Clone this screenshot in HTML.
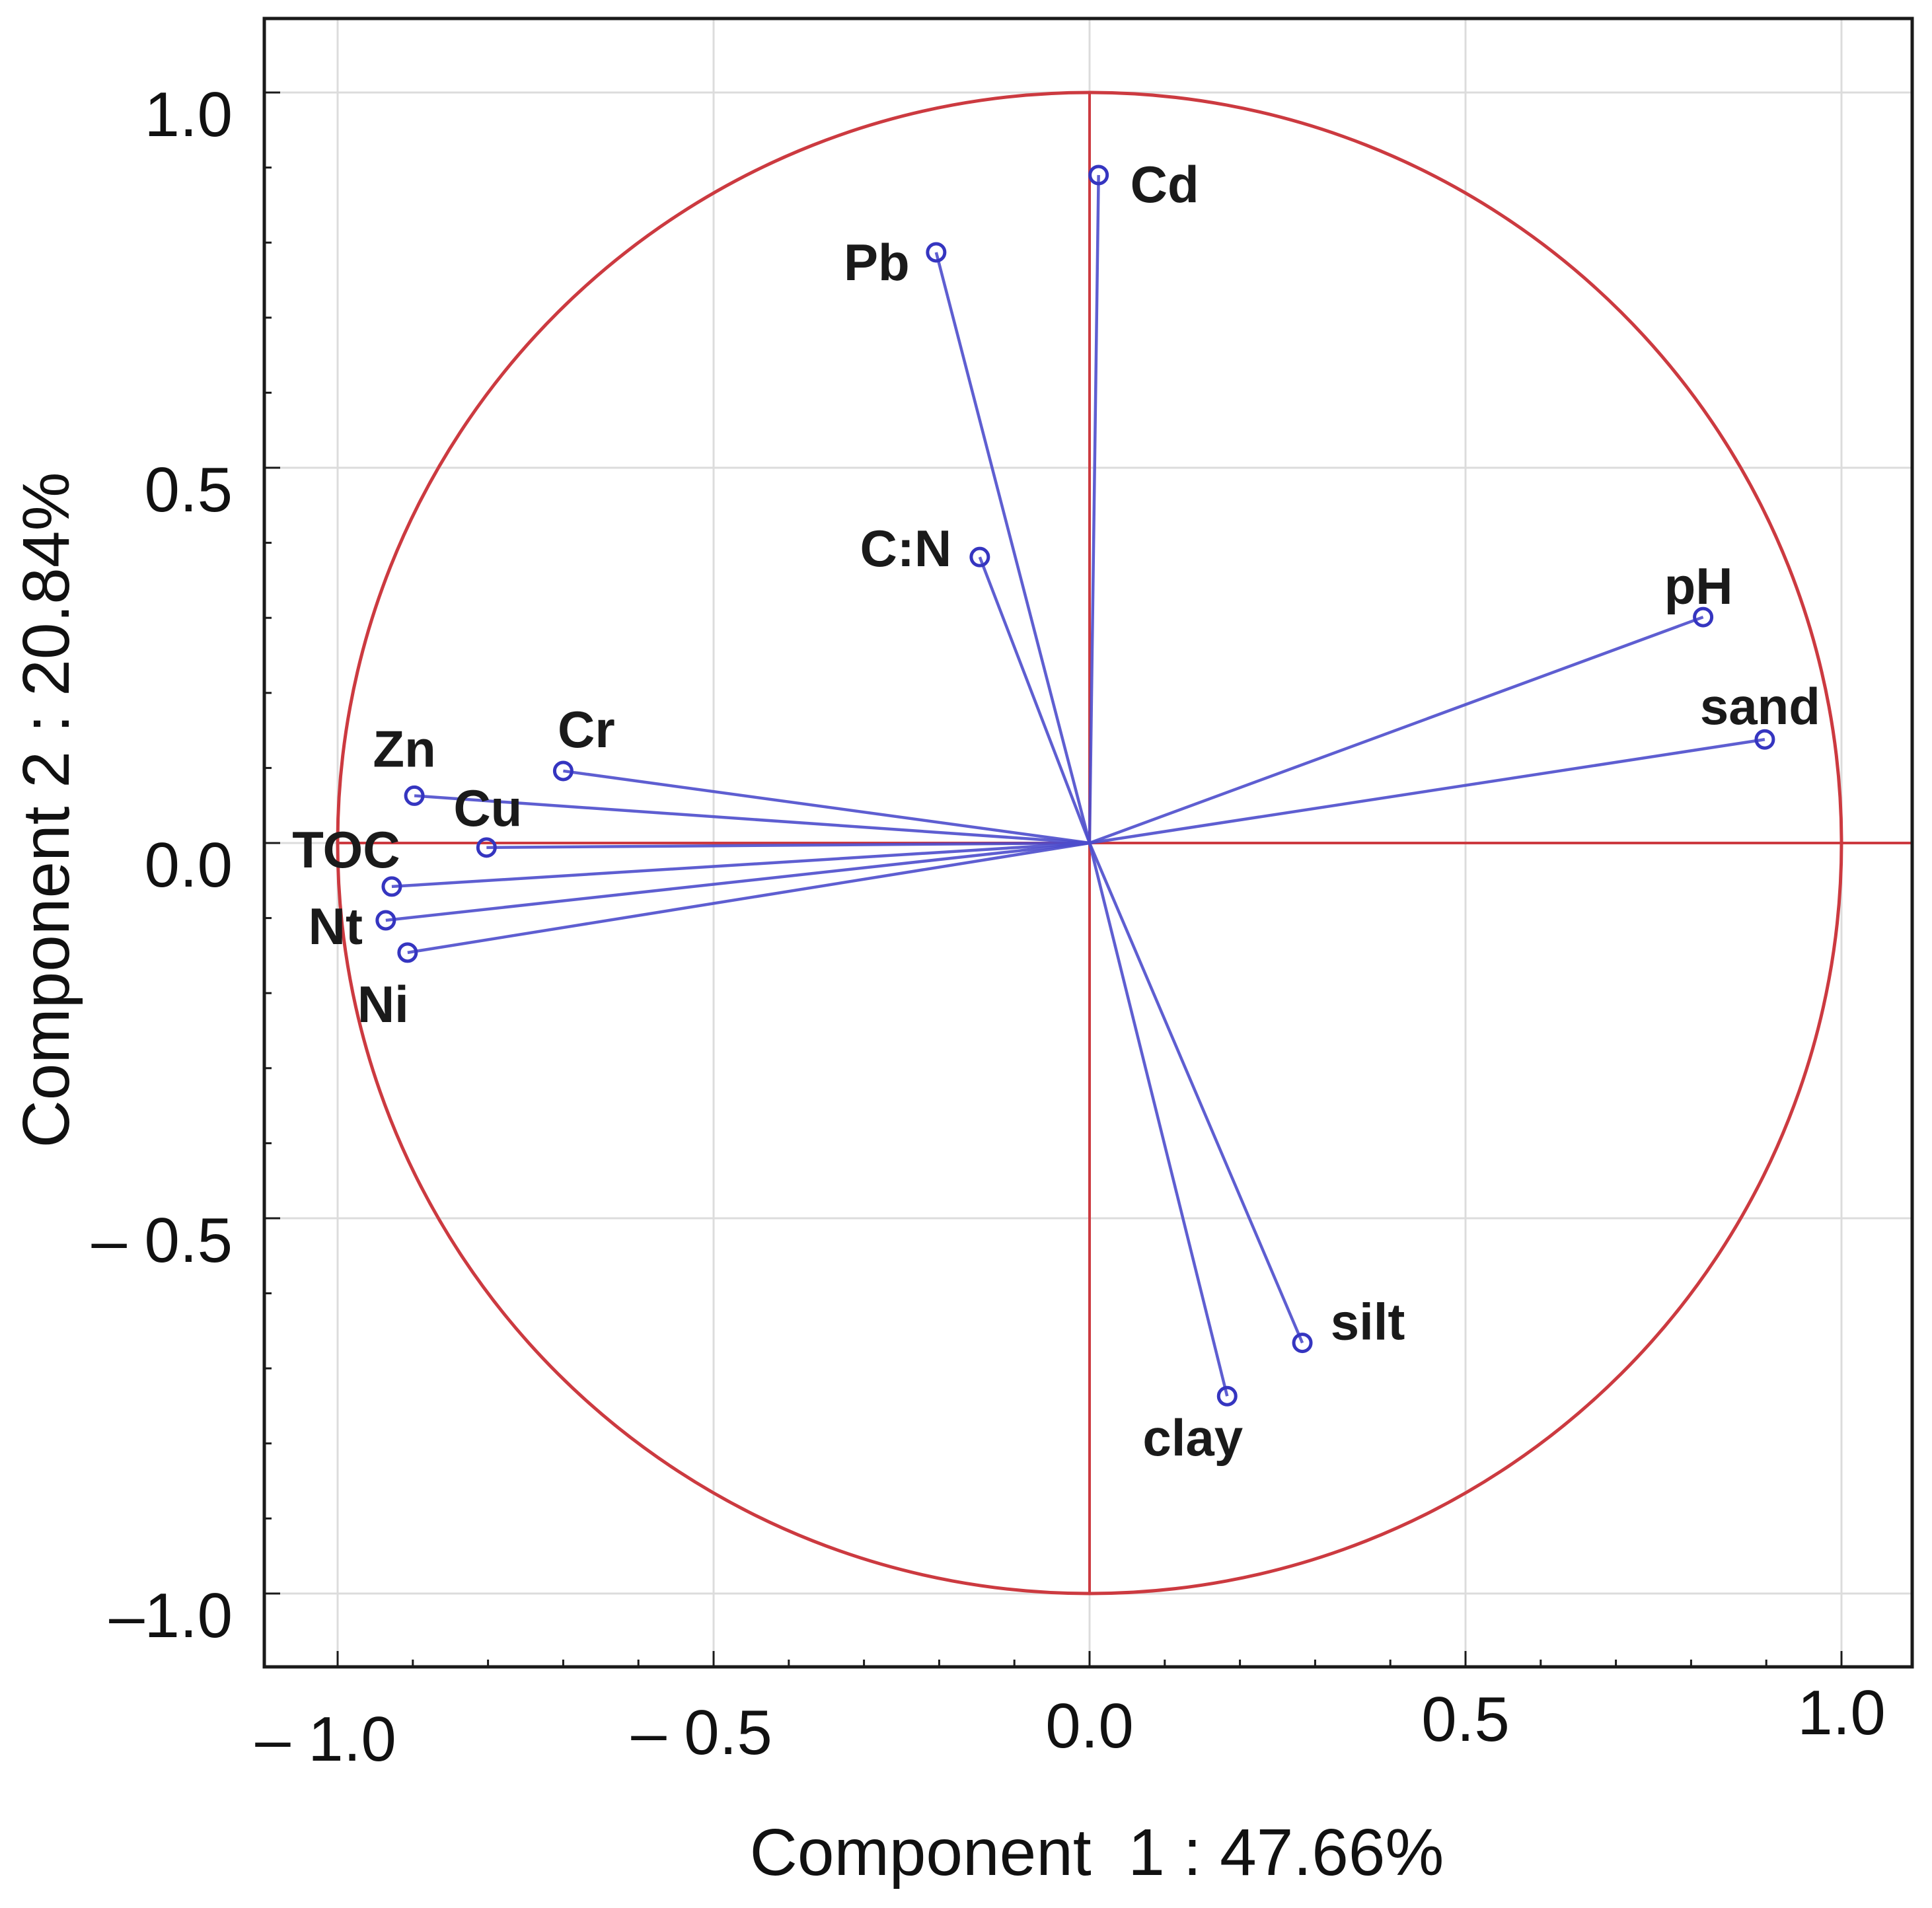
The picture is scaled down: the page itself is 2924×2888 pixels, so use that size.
<!DOCTYPE html>
<html><head><meta charset="utf-8"><style>
html,body{margin:0;padding:0;background:#fff;}
svg{display:block;}
text{font-family:"Liberation Sans",Arial,sans-serif;}
</style></head><body>
<svg id="chart" width="2924" height="2888" viewBox="0 0 2924 2888" xmlns="http://www.w3.org/2000/svg">
<g id="grid"></g>
<g id="axes"></g>
<g id="vectors"></g>
<g id="labels"></g>
<rect x="400" y="28" width="2494" height="2495" fill="none" stroke="#1a1a1a" stroke-width="5"/>
<g id="ticks"></g>
<text x="1660" y="2838" font-size="100" text-anchor="middle" fill="#111" style="white-space:pre">Component  1 : 47.66%</text>
<text x="0" y="0" font-size="100" text-anchor="middle" fill="#111" transform="translate(104,1226) rotate(-90)">Component 2 : 20.84%</text>
</svg>
<script>
const variables = ["Cd","Pb","C:N","pH","sand","Cr","Zn","Cu","TOC","Nt","Ni","silt","clay"];
const comp1 = [0.012,-0.204,-0.146,0.816,0.898,-0.700,-0.898,-0.802,-0.928,-0.936,-0.907,0.283,0.183];
const comp2 = [0.890,0.787,0.381,0.301,0.138,0.096,0.063,-0.006,-0.058,-0.103,-0.146,-0.666,-0.737];
const tickValues = [-1.0,-0.5,0.0,0.5,1.0];
const xTickLabels = ["\u2013 1.0","\u2013 0.5","0.0","0.5","1.0"];
const yTickLabels = ["\u20131.0","\u2013 0.5","0.0","0.5","1.0"];

// layout (pixel offsets for label placement, not data)
const labelOffsetX = [100,-90,-112,-7,-7,35,-15,2,-69,-76,-37,99,-52];
const labelOffsetY = [14,15,-13,-47,-50,-63,-71,-60,-56,9,78,-32,63];

const X0=1649, Y0=1276, UX=1138, UY=1136;
const FL=400, FR=2894, FT=28, FB=2523;
function sx(v){return X0+v*UX;}
function sy(v){return Y0-v*UY;}
const NS="http://www.w3.org/2000/svg";
function mk(tag,attrs,parent){const e=document.createElementNS(NS,tag);for(const k in attrs)e.setAttribute(k,attrs[k]);parent.appendChild(e);return e;}
const grid=document.getElementById('grid'),axes=document.getElementById('axes'),vec=document.getElementById('vectors'),lab=document.getElementById('labels'),ticks=document.getElementById('ticks');

tickValues.forEach((v,i)=>{
  let g=mk('line',{x1:sx(v),x2:sx(v),y1:FT,y2:FB,stroke:'#dcdcdc','stroke-width':3},grid);
  
  
  let h=mk('line',{x1:FL,x2:FR,y1:sy(v),y2:sy(v),stroke:'#dcdcdc','stroke-width':3},grid);
  
  
  let tx=mk('text',{x:sx(v)-(v<0?18:0),y:2645-(v*20),'font-size':96,'text-anchor':'middle',fill:'#111'},ticks);
  tx.textContent=xTickLabels[i];
  
  
  let ty=mk('text',{x:352,y:sy(v)+66,'font-size':96,'text-anchor':'end',fill:'#111'},ticks);
  ty.textContent=yTickLabels[i];
  
  
});
for(let k=-11;k<=11;k++){
  const v=k/10; const major=(k%5===0);
  const len=major?24:11;
  if(sx(v)>FL&&sx(v)<FR){let t=mk('line',{x1:sx(v),x2:sx(v),y1:FB,y2:FB-len,stroke:'#1a1a1a','stroke-width':3},ticks);
  
  }
  if(sy(v)>FT&&sy(v)<FB){let t=mk('line',{x1:FL,x2:FL+len,y1:sy(v),y2:sy(v),stroke:'#1a1a1a','stroke-width':3},ticks);
  
  }
}
let circ=mk('ellipse',{cx:sx(0),cy:sy(0),rx:UX,ry:UY,fill:'none',stroke:'#cc3a40','stroke-width':5},axes);


let hz=mk('line',{x1:sx(-1),x2:FR,y1:sy(0),y2:sy(0),stroke:'#cc3a40','stroke-width':4},axes);


let vt=mk('line',{x1:sx(0),x2:sx(0),y1:sy(1),y2:sy(-1),stroke:'#cc3a40','stroke-width':4},axes);



variables.forEach((name,i)=>{
  const px=sx(comp1[i]),py=sy(comp2[i]);
  let l=mk('line',{x1:sx(0),y1:sy(0),x2:px,y2:py,stroke:'#4c4ccc','stroke-width':4.5,'stroke-opacity':0.9},vec);
  
  
  let c=mk('circle',{cx:px,cy:py,r:13,fill:'none',stroke:'#3535c0','stroke-width':5},vec);
  
  
  let t=mk('text',{x:px+labelOffsetX[i],y:py+labelOffsetY[i],'font-size':78,'font-weight':'bold','text-anchor':'middle','dominant-baseline':'central',fill:'#1a1a1a'},lab);
  t.textContent=name;
  
  
});
</script>
</body></html>
